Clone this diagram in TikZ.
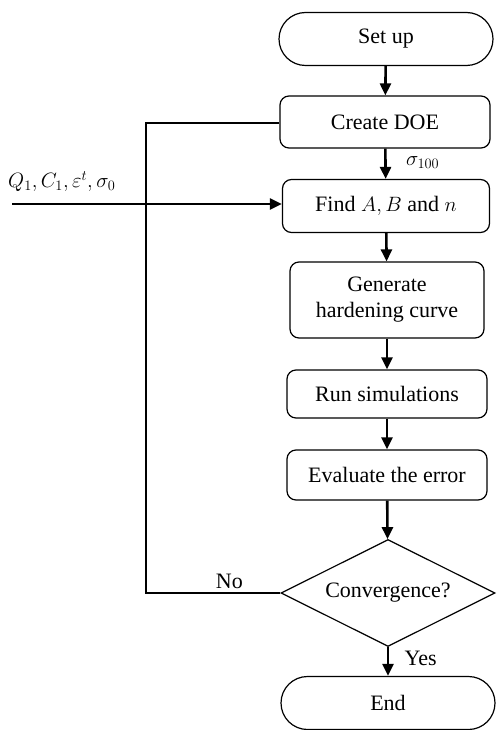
\documentclass[tikz,border=0pt]{standalone}
\usepackage{fontspec}
\setmainfont{Liberation Serif}
\usetikzlibrary{shapes.misc,shapes.geometric,arrows.meta}
\tikzset{
  font={\fontsize{22pt}{26}\selectfont}
}
\def\lineColor{black}
\tikzstyle{terminal}=[rounded rectangle,draw=\lineColor,line width=1.2pt,minimum width=214pt,minimum height=53pt,inner sep=0pt]
\tikzstyle{process}=[rectangle,rounded corners=9pt,draw=\lineColor,line width=1.2pt,minimum width=204pt,inner sep=0pt,align=center]
\tikzstyle{decision}=[diamond,aspect=2,draw=\lineColor,line width=1.2pt,minimum width=214pt,minimum height=107pt,inner sep=0pt]
\tikzstyle{flow}=[-{Triangle[length=12pt,width=11pt]},line width=2.6pt,draw=\lineColor]
\tikzstyle{loopline}=[line width=2.6pt,draw=\lineColor]

\begin{document}
\begin{tikzpicture}[x=1pt,y=-1pt]
    \useasboundingbox (0,0) rectangle (496,730);

    \node[terminal] (setup) at (386, 39) {Set up};
    \node[process,minimum height=52pt,minimum width=210pt] (doe) at (385, 122) {Create DOE};
    \node[process,minimum height=53pt,minimum width=207pt] (find) at (386, 206) {Find $A,B$ and $n$};
    \node[process,minimum height=76pt,minimum width=194pt] (curve) at (387, 300) {Generate\\hardening curve};
    \node[process,minimum height=48pt,minimum width=200pt] (sim) at (387, 394) {Run simulations};
    \node[process,minimum height=50pt,minimum width=200pt] (error) at (387, 475) {Evaluate the error};
    \node[decision] (conv) at (388, 593) {Convergence?};
    \node[terminal] (stop) at (388, 703) {End};

    \coordinate (in) at (12, 204);
    \coordinate (back) at (146, 593);
    \coordinate (backtop) at (146, 123);
    \node[anchor=south west,inner sep=0pt] (inlabel) at (8, 192) {$Q_1,C_1,\varepsilon^t,\sigma_0$};

    % main flow
    \draw[flow] (setup) -- (doe);
    \draw[flow] (doe) -- node[right=16pt,pos=0.45] {$\sigma_{100}$} (find);
    \draw[flow] (find) -- (curve);
    \draw[flow] (curve) -- (sim);
    \draw[flow] (sim) -- (error);
    \draw[flow] (error) -- (conv);
    \draw[flow] (conv) -- node[right=12pt,pos=0.4] {Yes} (stop);

    % material input
    \draw[flow] (in) -- (in -| find.west);

    % loop back
    \draw[loopline] (conv.west) -- node[above,pos=0.38] {No} (back) -- (backtop) -- (doe.west |- backtop);
\end{tikzpicture}
\end{document}
